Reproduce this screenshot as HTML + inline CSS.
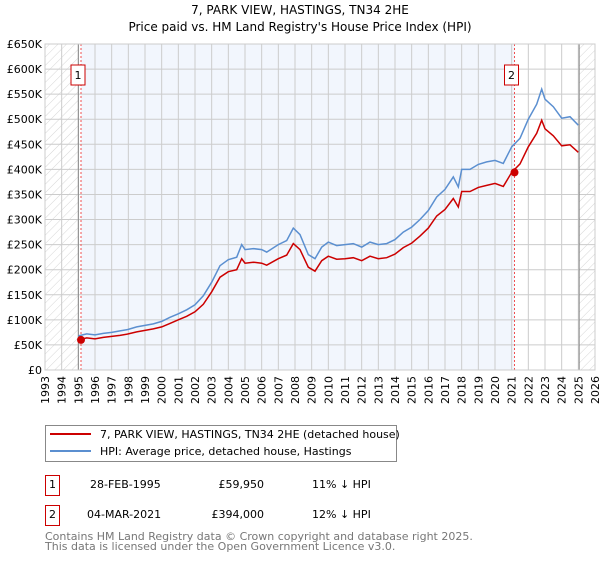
<!DOCTYPE html>
<html><head><meta charset="utf-8">
<style>
body{margin:0;background:#fff;font-family:"DejaVu Sans","Liberation Sans",sans-serif;}
svg text{font-family:"DejaVu Sans","Liberation Sans",sans-serif;}
</style></head>
<body>
<svg id="c" width="600" height="560" xmlns="http://www.w3.org/2000/svg">
<defs>
<pattern id="hatch" width="6" height="6" patternUnits="userSpaceOnUse" patternTransform="rotate(45)">
<line x1="0" y1="0" x2="0" y2="6" stroke="#ccc" stroke-width="0.8"/>
</pattern>
</defs>
<text x="300" y="14" text-anchor="middle" font-size="12">7, PARK VIEW, HASTINGS, TN34 2HE</text>
<text x="300" y="31" text-anchor="middle" font-size="12">Price paid vs. HM Land Registry's House Price Index (HPI)</text>
<g id="plot"></g>
<g>
<rect x="45.5" y="425.5" width="351" height="36" fill="#fff" stroke="#888"/>
<line x1="50" y1="434" x2="91" y2="434" stroke="#cc0000" stroke-width="2"/>
<text x="100" y="438" font-size="11">7, PARK VIEW, HASTINGS, TN34 2HE (detached house)</text>
<line x1="50" y1="451" x2="91" y2="451" stroke="#5b8fd0" stroke-width="2"/>
<text x="100" y="455" font-size="11">HPI: Average price, detached house, Hastings</text>
</g>
<g font-size="11">
<rect x="45.5" y="475.5" width="14" height="20" fill="#fff" stroke="#cc0000"/>
<text x="52.5" y="488" text-anchor="middle">1</text>
<text x="90" y="488">28-FEB-1995</text>
<text x="264" y="488" text-anchor="end">£59,950</text>
<text x="312" y="488">11% ↓ HPI</text>
<rect x="45.5" y="505.5" width="14" height="20" fill="#fff" stroke="#cc0000"/>
<text x="52.5" y="518" text-anchor="middle">2</text>
<text x="87" y="518">04-MAR-2021</text>
<text x="264" y="518" text-anchor="end">£394,000</text>
<text x="312" y="518">12% ↓ HPI</text>
</g>
<text x="45" y="540" font-size="11" fill="#777">Contains HM Land Registry data © Crown copyright and database right 2025.</text>
<text x="45" y="550" font-size="11" fill="#777">This data is licensed under the Open Government Licence v3.0.</text>
</svg>
<script>
const yearTicks=[1993,1994,1995,1996,1997,1998,1999,2000,2001,2002,2003,2004,2005,2006,2007,2008,2009,2010,2011,2012,2013,2014,2015,2016,2017,2018,2019,2020,2021,2022,2023,2024,2025,2026];
const priceTicks=[0,50,100,150,200,250,300,350,400,450,500,550,600,650];
const hpiT=[1995.0,1995.5,1996.0,1996.5,1997,1997.5,1998,1998.5,1999,1999.5,2000,2000.5,2001,2001.5,2002,2002.5,2003,2003.5,2004,2004.5,2004.8,2005,2005.5,2006,2006.3,2007,2007.5,2007.9,2008.3,2008.8,2009.2,2009.6,2010,2010.5,2011,2011.5,2012,2012.5,2013,2013.5,2014,2014.5,2015,2015.5,2016,2016.5,2017,2017.5,2017.8,2018,2018.5,2019,2019.5,2020,2020.5,2021,2021.5,2022,2022.5,2022.8,2023,2023.5,2024,2024.5,2025];
const hpiV=[68,72,70,73,75,78,81,86,89,92,97,105,112,120,130,148,175,208,220,225,250,240,242,240,235,250,258,283,270,230,222,245,255,248,250,252,245,255,250,252,260,275,285,300,318,345,360,385,365,400,400,410,415,418,412,445,462,500,530,560,540,525,502,505,488];
const ppT=hpiT;
const ppV=[60,64,62,65,67,69,72,76,79,82,86,93,100,107,116,131,156,185,196,200,222,213,215,213,209,222,229,252,240,205,197,218,227,221,222,224,218,227,222,224,231,244,253,267,283,307,320,342,325,356,356,364,368,372,366,394,411,445,472,498,481,467,447,449,434];
const saleT=[1995.16,2021.17];
const saleV=[59.95,394];
const sx=t=>45+(t-1993)*(550/33);
const sy=v=>370-v*(326/650);
const NS='http://www.w3.org/2000/svg';
const g=document.getElementById('plot');
function el(tag,attrs,parent){const e=document.createElementNS(NS,tag);for(const k in attrs)e.setAttribute(k,attrs[k]);(parent||g).appendChild(e);return e;}
let r=el('rect',{x:sx(1993),y:sy(650),width:sx(2026)-sx(1993),height:sy(0)-sy(650),fill:'#fff'});


r=el('rect',{x:sx(saleT[0]),y:sy(650),width:sx(saleT[1])-sx(saleT[0]),height:sy(0)-sy(650),fill:'#f2f6fd'});


r=el('rect',{x:sx(1993),y:sy(650),width:sx(1995)-sx(1993),height:sy(0)-sy(650),fill:'url(#hatch)'});


r=el('rect',{x:sx(2025.05),y:sy(650),width:sx(2026)-sx(2025.05),height:sy(0)-sy(650),fill:'url(#hatch)'});


yearTicks.forEach(y=>{
 let l=el('line',{x1:sx(y),x2:sx(y),y1:sy(650),y2:sy(0),stroke:'#ccc','stroke-width':1});
 
 
 let t=el('text',{x:0,y:0,'font-size':11,'text-anchor':'end',transform:`translate(${sx(y)+4},376) rotate(-90)`});
 t.textContent=y;
 
 
});
priceTicks.forEach(v=>{
 let l=el('line',{x1:sx(1993),x2:sx(2026),y1:sy(v),y2:sy(v),stroke:'#ccc','stroke-width':1});
 
 
 let t=el('text',{x:42,y:sy(v)+4,'font-size':11,'text-anchor':'end'});
 t.textContent=v===0?'£0':'£'+v+'K';
 
 
});
[1995,2025.05].forEach(t=>{
 let l=el('line',{x1:sx(t),x2:sx(t),y1:sy(650),y2:sy(0),stroke:'#888','stroke-width':1});
 
 
});
saleT.forEach((t,i)=>{
 let l=el('line',{x1:sx(t),x2:sx(t),y1:sy(650),y2:sy(0),stroke:'#f05050','stroke-width':1,'stroke-dasharray':'2,2'});
 
 
});
const pts=(T,V)=>T.map((t,i)=>sx(t).toFixed(1)+','+sy(V[i]).toFixed(1)).join(' ');
let p=el('polyline',{points:pts(hpiT,hpiV),fill:'none',stroke:'#5b8fd0','stroke-width':1.5});


p=el('polyline',{points:pts(ppT,ppV),fill:'none',stroke:'#cc0000','stroke-width':1.5});


saleT.forEach((t,i)=>{
 let c=el('circle',{cx:sx(t),cy:sy(saleV[i]),r:4,fill:'#cc0000'});
 
 
 let b=el('rect',{x:sx(t)-10,y:65,width:14,height:20,fill:'#fff',stroke:'#cc0000'});
 
 
 let tx=el('text',{x:sx(t)-3,y:79,'font-size':11,'text-anchor':'middle'});
 tx.textContent=String(i+1);
 
 
});
r=el('rect',{x:sx(1993),y:sy(650),width:sx(2026)-sx(1993),height:sy(0)-sy(650),fill:'none',stroke:'#ccc'});


</script>
</body></html>
